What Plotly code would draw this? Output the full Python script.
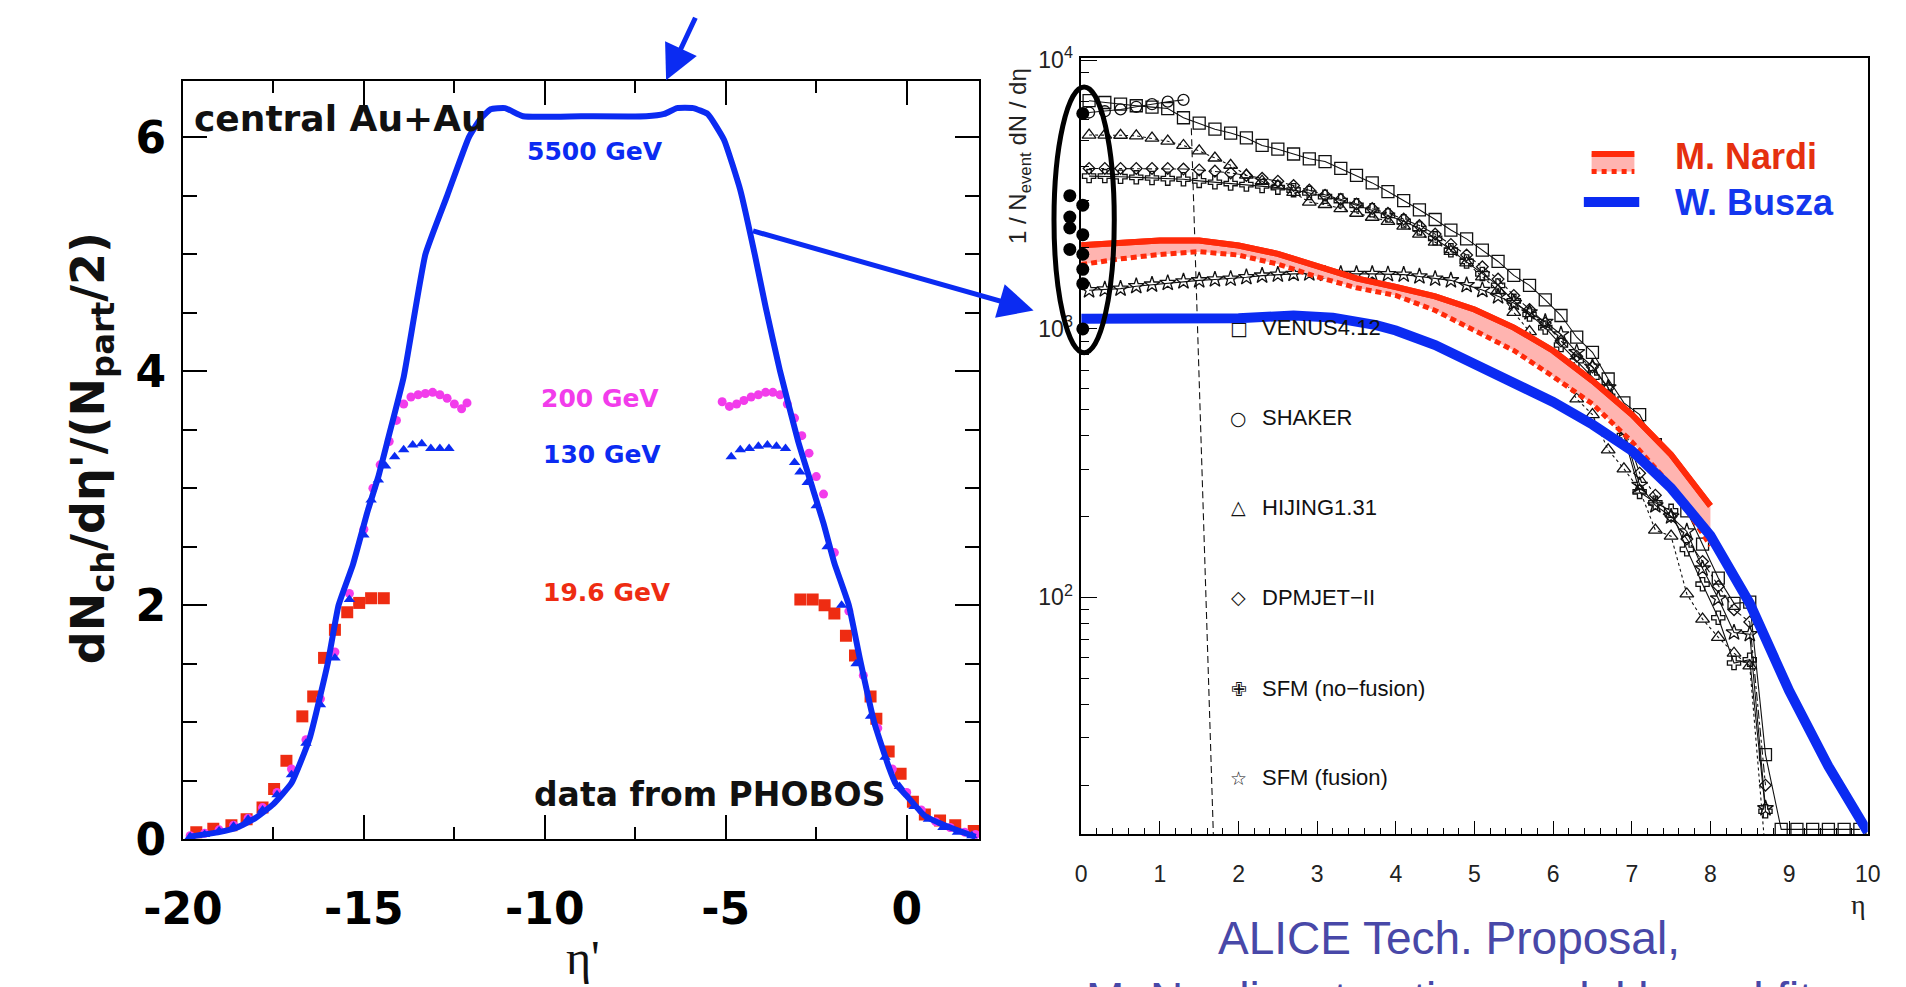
import plotly.graph_objects as go

W, H = 1906, 987


def px(x, y):
    """Pixel position on the page -> paper coordinates."""
    return x / W, 1 - y / H


# ---------------- left panel: PHOBOS data vs eta' ----------------
eta_5500 = [-19.85, -19.0, -18.5, -18.0, -17.5, -17.0, -16.5, -16.0, -15.7, -15.3, -14.9,
            -14.6, -14.35, -13.9, -13.3, -12.7, -12.1, -11.8, -11.5, -11.1, -10.6, -9.0,
            -7.2, -6.7, -6.35, -5.9, -5.5, -5.05, -4.6, -4.2, -3.9, -3.5, -3.0, -2.6,
            -2.3, -2.0, -1.6, -1.3, -0.9, -0.5, -0.3, 0.0, 0.5, 1.2, 1.9]
dn_5500 = [0.02, 0.06, 0.10, 0.18, 0.30, 0.48, 0.86, 1.50, 2.00, 2.35, 2.80,
           3.10, 3.40, 3.95, 5.00, 5.50, 6.00, 6.15, 6.24, 6.25, 6.18, 6.18,
           6.18, 6.20, 6.25, 6.25, 6.20, 5.98, 5.55, 5.00, 4.55, 4.00, 3.40, 3.00,
           2.70, 2.36, 2.00, 1.55, 1.00, 0.62, 0.47, 0.37, 0.20, 0.10, 0.02]

eta_200 = [-19.8, -19.4, -19.0, -18.6, -18.2, -17.8, -17.4, -17.0, -16.6, -16.2, -15.8,
           -15.4, -15.0, -14.75, -14.55, -14.3, -14.1, -13.9, -13.7, -13.5, -13.3, -13.1,
           -12.9, -12.7, -12.5, -12.3, -12.15,
           -5.1, -4.9, -4.7, -4.5, -4.3, -4.1, -3.9, -3.7, -3.5, -3.3, -3.1, -2.9, -2.7,
           -2.5, -2.3, -2.0, -1.6, -1.2, -0.8, -0.4, 0.0, 0.4, 0.8, 1.2, 1.6, 1.9]
dn_200 = [0.03, 0.05, 0.08, 0.12, 0.18, 0.27, 0.40, 0.60, 0.85, 1.20, 1.60,
          2.10, 2.65, 3.00, 3.20, 3.40, 3.58, 3.72, 3.78, 3.80, 3.81, 3.82,
          3.80, 3.77, 3.72, 3.68, 3.73,
          3.74, 3.70, 3.72, 3.75, 3.78, 3.80, 3.82, 3.82, 3.80, 3.72, 3.60, 3.45, 3.30,
          3.10, 2.95, 2.45, 1.95, 1.40, 0.95, 0.60, 0.40, 0.25, 0.15, 0.10, 0.06, 0.04]

eta_130 = [-19.8, -19.4, -19.0, -18.6, -18.2, -17.8, -17.4, -17.0, -16.6, -16.2, -15.8,
           -15.4, -15.0, -14.8, -14.6, -14.4, -14.15, -13.9, -13.65, -13.4, -13.15, -12.9,
           -12.65,
           -4.85, -4.6, -4.35, -4.1, -3.85, -3.6, -3.35, -3.1, -2.95, -2.75, -2.5, -2.2,
           -1.8, -1.4, -1.0, -0.6, -0.2, 0.2, 0.6, 1.0, 1.4, 1.8]
dn_130 = [0.02, 0.04, 0.07, 0.11, 0.17, 0.25, 0.38, 0.55, 0.82, 1.15, 1.55,
          2.05, 2.60, 2.90, 3.07, 3.19, 3.27, 3.33, 3.37, 3.38, 3.34, 3.34,
          3.34,
          3.27, 3.33, 3.34, 3.36, 3.37, 3.36, 3.34, 3.22, 3.14, 3.05, 2.85, 2.50,
          2.00, 1.50, 1.05, 0.70, 0.45, 0.28, 0.17, 0.10, 0.06, 0.03]

eta_19 = [-19.63, -19.16, -18.66, -18.24, -17.8, -17.48, -17.14, -16.7, -16.4, -16.1,
          -15.8, -15.46, -15.13, -14.8, -14.45,
          -2.94, -2.6, -2.27, -2.0, -1.68, -1.43, -1.0, -0.84, -0.5, -0.17, 0.17, 0.5,
          0.92, 1.34, 1.85]
dn_19 = [0.06, 0.09, 0.12, 0.17, 0.27, 0.43, 0.67, 1.05, 1.22, 1.55,
         1.79, 1.94, 2.02, 2.06, 2.06,
         2.05, 2.05, 2.00, 1.93, 1.74, 1.57, 1.22, 1.03, 0.75, 0.56, 0.32, 0.21,
         0.16, 0.12, 0.07]

# ---------------- right panel: model predictions vs eta ----------------
eta_grid = [0.1, 0.3, 0.5, 0.7, 0.9, 1.1, 1.3, 1.5, 1.7, 1.9, 2.1, 2.3, 2.5, 2.7, 2.9,
            3.1, 3.3, 3.5, 3.7, 3.9, 4.1, 4.3, 4.5, 4.7, 4.9, 5.1, 5.3, 5.5, 5.7, 5.9,
            6.1, 6.3, 6.5, 6.7, 6.9, 7.1, 7.3, 7.5, 7.7, 7.9, 8.1, 8.3, 8.5, 8.7, 8.9,
            9.1, 9.3, 9.5, 9.7, 9.9]

venus = [7060, 6950, 6850, 6760, 6680, 6600, 6100, 5820, 5530, 5350, 5130, 4810, 4660,
         4470, 4290, 4190, 3950, 3720, 3490, 3240, 3000, 2770, 2550, 2330, 2160, 1960,
         1780, 1580, 1450, 1280, 1120, 930, 817, 650, 530, 479, 370, 280, 210, 158, 118,
         95, 96, 26, 13.7, 13.7, 13.7, 13.7, 13.7, 13.7]

shaker = [6380, 6450, 6550, 6700, 6850, 7000, 7110]
shaker_edge_eta = [1.40, 1.68]
shaker_edge = [5570, 13.1]

hijing = [5260, 5260, 5250, 5220, 5120, 4990, 4810, 4590, 4320, 4060, 3730, 3540, 3400,
          3215, 2960, 2900, 2800, 2690, 2600, 2510, 2410, 2250, 2100, 1940, 1760, 1560,
          1390, 1150, 975, 810, 664, 548, 479, 354, 301, 251, 178, 169, 103, 83, 71, 62,
          55.6]
hijing_edge_eta = [8.5, 8.68]
hijing_edge = [55.6, 13.1]

dpmjet = [3950, 3950, 3950, 3950, 3950, 3950, 3930, 3900, 3860, 3800, 3720, 3630, 3540,
          3410, 3280, 3140, 3030, 2910, 2800, 2690, 2560, 2420, 2250, 2060, 1880, 1700,
          1530, 1330, 1180, 1050, 900, 790, 720, 600, 430, 290, 240, 200, 165, 136, 110,
          90, 81, 20]

sfm_nofusion = [3700, 3700, 3680, 3660, 3640, 3620, 3600, 3550, 3510, 3470, 3440, 3400,
                3350, 3280, 3200, 3100, 3000, 2880, 2760, 2640, 2510, 2360, 2170, 1960,
                1780, 1600, 1450, 1270, 1130, 1010, 870, 760, 660, 560, 400, 247, 225,
                210, 151, 112, 84, 57, 58.6, 16]

sfm_fusion = [1390, 1400, 1410, 1440, 1460, 1480, 1500, 1514, 1525, 1535, 1555, 1577,
              1590, 1600, 1605, 1600, 1600, 1600, 1600, 1595, 1590, 1565, 1535, 1514,
              1453, 1393, 1320, 1247, 1150, 1060, 952, 817, 722, 604, 420, 262, 220, 200,
              176, 128, 99, 74, 73, 16.4]

nardi_eta = [0.0, 0.5, 1.0, 1.5, 2.0, 2.5, 3.0, 3.5, 4.0, 4.5, 5.0, 5.5, 6.0, 6.5, 7.0,
             7.5, 8.0]
nardi_high = [2046, 2100, 2130, 2130, 2040, 1900, 1720, 1540, 1430, 1320, 1180, 1010,
              828, 640, 480, 340, 219]
nardi_low = [1733, 1820, 1890, 1936, 1880, 1740, 1560, 1420, 1330, 1170, 985, 830, 664,
             525, 380, 260, 156]

busza_eta = [0.0, 1.0, 2.0, 2.7, 3.2, 3.75, 4.0, 4.5, 5.0, 5.5, 6.0, 6.5, 7.0, 7.5, 8.0,
             8.5, 9.0, 9.5, 10.0]
busza = [1090, 1090, 1095, 1120, 1100, 1031, 985, 870, 745, 630, 534, 440, 352, 255,
         170, 95, 45, 23.5, 13.4]

# mid-rapidity predictions collected at eta = 0 (two offset columns)
mid_eta = [0.02, -0.145, 0.02, -0.145, -0.145, 0.02, -0.145, 0.02, 0.02, 0.02, 0.02]
mid_val = [6325, 3128, 2883, 2603, 2371, 2240, 1973, 1893, 1664, 1472, 998]

model_keys = ["VENUS4.12", "SHAKER", "HIJING1.31", "DPMJET\u2212II",
              "SFM (no\u2212fusion)", "SFM (fusion)"]
model_glyphs = ["\u25a1", "\u25cb", "\u25b3", "\u25c7", "\u2719", "\u2606"]

BLUE = "#0B2BF2"
MAGENTA = "#F23CEB"
RED = "#EE2C12"
PINK = "#FFB4B0"
NARDI_RED = "#FF2A0A"
INK = "#111111"
BOLD = "DejaVu Sans"
ROOTFONT = "Liberation Sans, Arial, sans-serif"

# pixel geometry of the two panels
L_X0, L_X1, L_Y0, L_Y1 = 147, 966, 69, 859
R_X0, R_X1, R_Y0, R_Y1 = 1071, 1880, 45, 854
R_XPAD = 1030                      # left edge of the overlay axis used for eta < 0 points
R_PX_PER_ETA = (R_X1 - R_X0) / 10.0

fig = go.Figure()

# ---- left panel ----
fig.add_trace(go.Scatter(x=eta_19, y=dn_19, mode="markers", xaxis="x", yaxis="y",
                         marker=dict(symbol="square", size=12, color=RED, line=dict(width=0))))
fig.add_trace(go.Scatter(x=eta_200, y=dn_200, mode="markers", xaxis="x", yaxis="y",
                         marker=dict(symbol="circle", size=9, color=MAGENTA, line=dict(width=0))))
fig.add_trace(go.Scatter(x=eta_130, y=dn_130, mode="markers", xaxis="x", yaxis="y",
                         marker=dict(symbol="triangle-up", size=10, color=BLUE, line=dict(width=0))))
fig.add_trace(go.Scatter(x=eta_5500, y=dn_5500, mode="lines", xaxis="x", yaxis="y",
                         line=dict(color=BLUE, width=6, shape="spline", smoothing=0.4)))


# ---- right panel: model curves ----
def model(xs, ys, symbol, dash, size=11):
    fig.add_trace(go.Scatter(
        x=xs, y=ys, mode="lines+markers", xaxis="x2", yaxis="y2", cliponaxis=False,
        line=dict(color=INK, width=1.1, dash=dash),
        marker=dict(symbol=symbol, size=size, color=INK, line=dict(color=INK, width=1.3))))


model(eta_grid[:len(venus)], venus, "square-open", "solid", 12)
model(eta_grid[:len(shaker)], shaker, "circle-open", "solid", 11)
fig.add_trace(go.Scatter(x=shaker_edge_eta, y=shaker_edge, mode="lines", xaxis="x2",
                         yaxis="y2", line=dict(color=INK, width=1.1, dash="7px,4px")))
model(eta_grid[:len(hijing)], hijing, "triangle-up-open", "dot", 12)
fig.add_trace(go.Scatter(x=hijing_edge_eta, y=hijing_edge, mode="lines", xaxis="x2",
                         yaxis="y2", line=dict(color=INK, width=1.1, dash="dot")))
model(eta_grid[:len(dpmjet)], dpmjet, "diamond-open", "dashdot", 9)
model(eta_grid[:len(sfm_nofusion)], sfm_nofusion, "cross-open", "solid", 11)
model(eta_grid[:len(sfm_fusion)], sfm_fusion, "star-open", "solid", 12)

# ---- M. Nardi band ----
fig.add_trace(go.Scatter(x=nardi_eta, y=nardi_high, mode="lines", xaxis="x2", yaxis="y2",
                         line=dict(color=NARDI_RED, width=6)))
fig.add_trace(go.Scatter(x=nardi_eta, y=nardi_low, mode="lines", xaxis="x2", yaxis="y2",
                         fill="tonexty", fillcolor=PINK,
                         line=dict(color=NARDI_RED, width=5, dash="6px,4px")))
fig.add_trace(go.Scatter(x=nardi_eta, y=nardi_high, mode="lines", xaxis="x2", yaxis="y2",
                         line=dict(color=NARDI_RED, width=6)))

# ---- W. Busza ----
fig.add_trace(go.Scatter(x=busza_eta, y=busza, mode="lines", xaxis="x2", yaxis="y2",
                         cliponaxis=False, line=dict(color=BLUE, width=10)))

# ---- mid-rapidity points (drawn on an overlay axis that reaches past eta = 0) ----
fig.add_trace(go.Scatter(x=mid_eta, y=mid_val, mode="markers", xaxis="x3", yaxis="y2",
                         cliponaxis=False,
                         marker=dict(symbol="circle", size=13, color="black")))

# ---------------- annotations ----------------
ann = []


def text(x, y, s, size, color=INK, family=BOLD, weight="bold", xanchor="center",
         angle=0):
    xp, yp = px(x, y)
    ann.append(dict(x=xp, y=yp, xref="paper", yref="paper", text=s, showarrow=False,
                    xanchor=xanchor, yanchor="middle", textangle=angle,
                    font=dict(family=family, size=size, color=color, weight=weight)))


# left panel labels
text(156, 108, "central Au+Au", 36, xanchor="left")
text(571, 142, "5500 GeV", 25, BLUE)
text(576, 400, "200 GeV", 25, MAGENTA)
text(578, 458, "130 GeV", 25, BLUE)
text(583, 602, "19.6 GeV", 25, RED)
text(689, 812, "data from PHOBOS", 33)
text(53, 452, "dN<sub>ch</sub>/d\u03b7'/(N<sub>part</sub>/2)", 46, angle=-90)
text(559, 982, "\u03b7'", 48, family="Liberation Serif, serif", weight="normal")

# right panel key
key_rows = [326, 420, 513, 607, 702, 795]
for row, glyph, name in zip(key_rows, model_glyphs, model_keys):
    text(1233, row, glyph, 19, family="DejaVu Sans", weight="normal")
    text(1255, row, name, 22, family=ROOTFONT, weight="normal", xanchor="left")

text(1680, 147, "M. Nardi", 36, "#E5300F", family=ROOTFONT, xanchor="left")
text(1680, 195, "W. Busza", 36, "#1437EE", family=ROOTFONT, xanchor="left")
text(1007, 147, "1 / N<sub>event</sub> dN / d\u03b7", 24, "#222222", family=ROOTFONT,
     weight="normal", angle=-90)
text(1871, 927, "\u03b7", 28, "#222222", family="Liberation Serif, serif",
     weight="normal")
text(1449, 962, "ALICE Tech. Proposal,", 46, "#4848A8", family=ROOTFONT, weight="normal")
text(1449, 1026, "M. Nardi: saturation model based fit", 46, "#4848A8", family=ROOTFONT,
     weight="normal")

# arrows
for (hx, hy), (tx, ty) in [((644, 68), (674, 4)), ((1022, 308), (740, 228))]:
    xp, yp = px(hx, hy)
    ann.append(dict(x=xp, y=yp, xref="paper", yref="paper", text="", showarrow=True,
                    ax=tx - hx, ay=ty - hy, arrowhead=2, arrowsize=1.4, arrowwidth=5,
                    arrowcolor=BLUE))

# ---------------- shapes ----------------
ex0, ey0 = px(1043, 75)
ex1, ey1 = px(1105, 352)
shapes = [
    dict(type="circle", xref="paper", yref="paper", x0=ex0, x1=ex1, y0=ey1, y1=ey0,
         line=dict(color="black", width=5), layer="above"),
]
# legend swatches for the two extrapolations
sx0, sy0 = px(1596, 145)
sx1, sy1 = px(1640, 163)
shapes += [
    dict(type="rect", xref="paper", yref="paper", x0=sx0, x1=sx1, y0=sy1, y1=sy0,
         fillcolor=PINK, line=dict(width=0)),
    dict(type="line", xref="paper", yref="paper", x0=sx0, x1=sx1, y0=sy0, y1=sy0,
         line=dict(color=NARDI_RED, width=6)),
    dict(type="line", xref="paper", yref="paper", x0=sx0, x1=sx1, y0=sy1, y1=sy1,
         line=dict(color=NARDI_RED, width=5, dash="dot")),
]
bx0, by = px(1588, 195)
bx1, _ = px(1645, 195)
shapes.append(dict(type="line", xref="paper", yref="paper", x0=bx0, x1=bx1, y0=by, y1=by,
                   line=dict(color=BLUE, width=10)))

# ---------------- axes ----------------
left_axis_common = dict(showgrid=False, zeroline=False, showline=True, linecolor="black",
                        linewidth=2, mirror="ticks", ticks="inside", tickcolor="black",
                        tickwidth=2, tickfont=dict(family=BOLD, size=44, color="black",
                                                   weight="bold"))
right_axis_common = dict(showgrid=False, zeroline=False, showline=True, linecolor="black",
                         linewidth=1.5, mirror=True, ticks="inside", tickcolor="black",
                         tickwidth=1.2, tickfont=dict(family=ROOTFONT, size=23,
                                                      color="#222222"))

log_minor = [20, 30, 40, 50, 60, 70, 80, 90, 200, 300, 400, 500, 600, 700, 800, 900,
             2000, 3000, 4000, 5000, 6000, 7000, 8000, 9000]

fig.update_layout(
    width=W, height=H, margin=dict(l=0, r=0, t=0, b=0),
    paper_bgcolor="white", plot_bgcolor="rgba(0,0,0,0)", showlegend=False,
    xaxis=dict(domain=[L_X0 / W, L_X1 / W], range=[-20, 2], anchor="y",
               tickvals=[-20, -15, -10, -5, 0], ticktext=["-20", "-15", "-10", "-5", "0"],
               ticklen=24, ticklabelstandoff=30,
               minor=dict(tickvals=[-17.5, -12.5, -7.5, -2.5], ticks="inside", ticklen=12,
                          tickwidth=2, tickcolor="black"),
               **left_axis_common),
    yaxis=dict(domain=[1 - L_Y1 / H, 1 - L_Y0 / H], range=[0, 6.48], anchor="x",
               tickvals=[0, 2, 4, 6], ticklen=24, ticklabelstandoff=6,
               minor=dict(dtick=0.5, ticks="inside", ticklen=14, tickwidth=2,
                          tickcolor="black"),
               **left_axis_common),
    xaxis2=dict(domain=[R_X0 / W, R_X1 / W], range=[0, 10], anchor="y2", dtick=1,
                ticklen=14, ticklabelstandoff=18,
                minor=dict(dtick=0.2, ticks="inside", ticklen=7, tickwidth=1.2,
                           tickcolor="black"),
                **right_axis_common),
    xaxis3=dict(domain=[R_XPAD / W, R_X1 / W],
                range=[-(R_X0 - R_XPAD) / R_PX_PER_ETA, 10], anchor="y2", visible=False,
                showgrid=False, zeroline=False),
    yaxis2=dict(domain=[1 - R_Y1 / H, 1 - R_Y0 / H], type="log", range=[1.118, 4.007],
                anchor="x2", tickvals=[100, 1000, 10000],
                ticktext=["10<sup>2</sup>", "10<sup>3</sup>", "10<sup>4</sup>"],
                ticklen=16, ticklabelstandoff=2,
                minor=dict(tickvals=log_minor, ticks="inside", ticklen=8, tickwidth=1.2,
                           tickcolor="black"),
                **right_axis_common),
    annotations=ann,
    shapes=shapes,
)

fig.write_html("out.html")
